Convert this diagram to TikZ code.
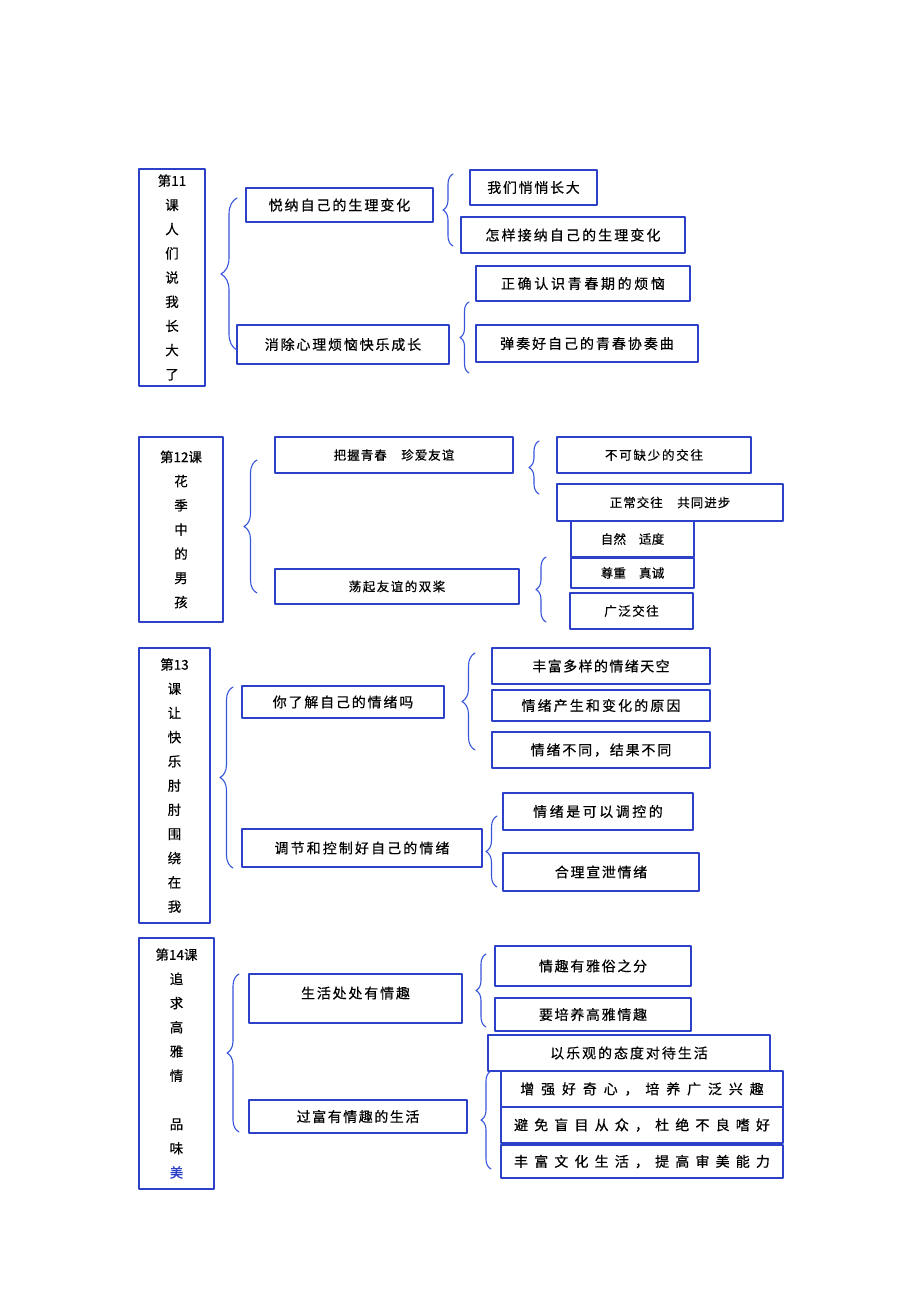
\documentclass[tikz,border=0pt]{standalone}
\usepackage{fontspec}
\setmainfont{Noto Sans CJK SC}[FakeBold=0.5]
\usetikzlibrary{decorations.pathreplacing}
\definecolor{kuangse}{RGB}{45,65,200}
\definecolor{kuohaose}{RGB}{55,85,220}
\newcommand{\zi}[2]{\fontsize{#1}{#1}\selectfont\edef\zinext{\noexpand\addfontfeature{LetterSpace=#2}}\zinext}
\tikzset{
  kuang/.style={draw=kuangse, line width=1.1pt, inner sep=0pt},
  kuohao/.style={draw=kuohaose, line width=1.1pt, decorate, decoration={brace, amplitude=#1}},
  kuohao/.default=11
}
\begin{document}
\begin{tikzpicture}[x=1pt, y=-1pt, line join=round, line cap=round]
\useasboundingbox (0,0) rectangle (920,1302);
% lesson columns
\foreach \n/\xa/\ya/\xb/\yb/\t in {
  L1/139/169/205/386/{第11\\课\\人\\们\\说\\我\\长\\大\\了},
  L2/139/437/223/622/{第12课\\花\\季\\中\\的\\男\\孩},
  L3/139/648/210/923/{第13\\课\\让\\快\\乐\\肘\\肘\\围\\绕\\在\\我},
  L4/139/938/214/1189/{第14课\\追\\求\\高\\雅\\情\\[24.2pt]品\\味\\{\color{kuangse}美}}}
  \node[kuang, align=center, font={\fontsize{13.5}{24.2}\selectfont},
    minimum width={(\xb-\xa)*1pt}, minimum height={(\yb-\ya)*1pt}]
    (\n) at ({(\xa+\xb)/2},{(\ya+\yb)/2}) {\t};
% topic boxes
\foreach \n/\xa/\ya/\xb/\yb/\s/\ls/\t in {
  A1/246/188/433/222/14/14/悦纳自己的生理变化,
  B1/237/325/449/364/14/13/消除心理烦恼快乐成长,
  a1/470/170/597/205/14/12/我们悄悄长大,
  a2/461/217/685/253/14/15/怎样接纳自己的生理变化,
  b1/476/266/690/301/14/19/正确认识青春期的烦恼,
  b2/476/325/698/362/14/14/弹奏好自己的青春协奏曲,
  A2/275/437/513/473/12.5/8/把握青春　珍爱友谊,
  B2/275/569/519/604/12.5/12/荡起友谊的双桨,
  c1/557/437/751/473/12.5/14/不可缺少的交往,
  c2/557/484/783/521/12.5/8/正常交往　共同进步,
  d1/571/521/694/557/12.5/2/自然　适度,
  d2/571/558/694/588/12.5/2/尊重　真诚,
  d3/570/593/693/629/12.5/12/广泛交往,
  A3/242/686/444/718/14/13/你了解自己的情绪吗,
  B3/242/829/482/867/14/15/调节和控制好自己的情绪,
  e1/492/648/710/684/14/10/丰富多样的情绪天空,
  e2/492/690/710/721/14/15/情绪产生和变化的原因,
  e3/492/732/710/768/14/13/情绪不同，结果不同,
  f1/503/793/693/830/14/18/情绪是可以调控的,
  f2/503/853/699/891/14/12/合理宣泄情绪,
  A4/249/974/462/1023/14/13/\raisebox{12pt}{生活处处有情趣},
  B4/249/1100/467/1133/14/11/过富有情趣的生活,
  g1/495/946/691/986/14/12/情趣有雅俗之分,
  g2/495/998/691/1031/14/12/要培养高雅情趣,
  h0/488/1035/770/1071/14/14/以乐观的态度对待生活,
  h1/501/1071/783/1107/14/49/增强好奇心，培养广泛兴趣,
  h2/501/1107/783/1143/14/44/避免盲目从众，杜绝不良嗜好,
  h3/501/1145/783/1178/14/44/丰富文化生活，提高审美能力}
  \node[kuang, minimum width={(\xb-\xa)*1pt}, minimum height={(\yb-\ya)*1pt}]
    (\n) at ({(\xa+\xb)/2},{(\ya+\yb)/2}) {\zi{\s}{\ls}\t};
% brace ends
\path
  (237,350) coordinate (k1a) (237,198) coordinate (k1b)
  (453,246) coordinate (k2a) (453,174) coordinate (k2b)
  (469,373) coordinate (k3a) (469,302) coordinate (k3b)
  (257,593) coordinate (k4a) (257,460) coordinate (k4b)
  (539,494) coordinate (k5a) (539,441) coordinate (k5b)
  (546,622) coordinate (k6a) (546,557) coordinate (k6b)
  (233,868) coordinate (k7a) (233,687) coordinate (k7b)
  (475,750) coordinate (k8a) (475,653) coordinate (k8b)
  (497,887) coordinate (k9a) (497,816) coordinate (k9b)
  (239,1132) coordinate (k10a) (239,974) coordinate (k10b)
  (486,1027) coordinate (k11a) (486,954) coordinate (k11b)
  (491,1169) coordinate (k12a) (491,1071) coordinate (k12b)
  ;
\foreach \k/\a in {k1/16,k2/10,k3/9,k4/13,k5/10,k6/10,k7/13,k8/13,k9/11,k10/12,k11/10,k12/10}
  \draw[kuohao=\a] (\k a) -- (\k b);
\end{tikzpicture}
\end{document}
